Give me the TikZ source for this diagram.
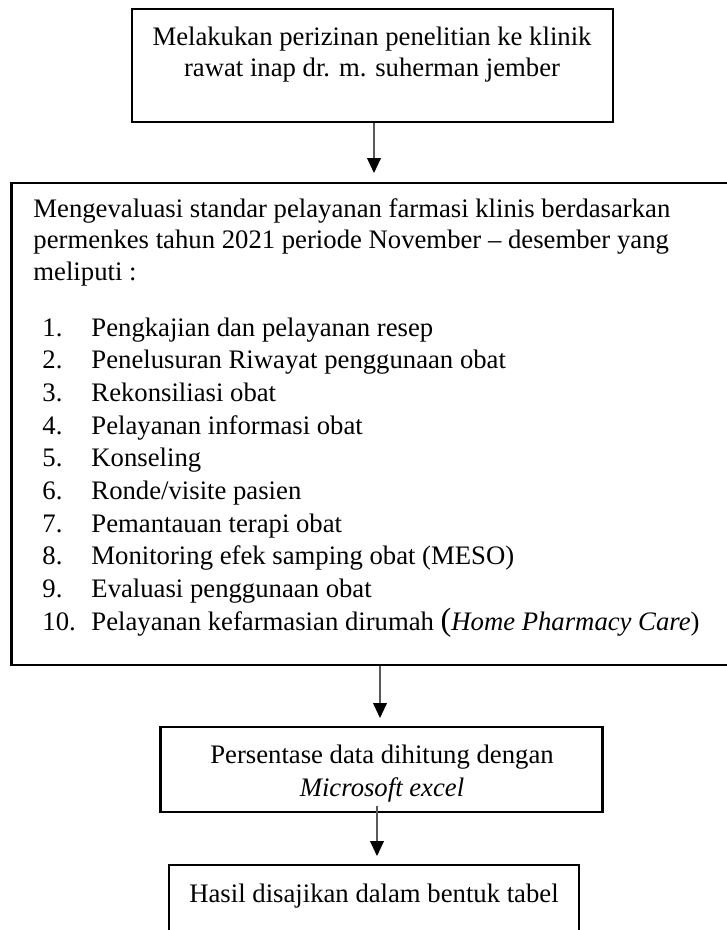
\documentclass[tikz,border=0pt]{standalone}
\usepackage{fontspec}
\setmainfont{Liberation Serif}
\usetikzlibrary{arrows.meta,fit,calc}
\begin{document}
\begin{tikzpicture}[x=0.4494pt,y=-0.4494pt,
  box/.style={draw=black,line width=1.2pt,inner sep=0pt,fill=none},
  txt/.style={inner sep=0pt,anchor=base,font=\fontsize{12}{13.8}\selectfont},
  txtl/.style={txt,anchor=base west},
  arr/.style={draw=black!65,line width=0.5pt,-{Triangle[length=6.7pt,width=6.2pt,color=black]}}]
\useasboundingbox (0,0) rectangle (727,930);
\clip (0,0) rectangle (727,930);

% boxes
\node[box,fit={(132,9) (613,122)}] (b1) {};
\node[box,fit={(11.7,183) (745,665)}] (b2) {};
\node[box,fit={(160.7,727) (602.7,812)}] (b3) {};
\node[box,fit={(169,865) (579,945)}] (b4) {};

% box 1 text
\node[txt] (t1a) at (372,46) {Melakukan perizinan penelitian ke klinik};
\node[txt] (t1b) at (372,77) {rawat inap dr. m. suherman jember};

% box 2 text
\node[txtl] (t2a) at (33,218) {Mengevaluasi standar pelayanan farmasi klinis berdasarkan};
\node[txtl] (t2b) at (33,249) {permenkes tahun 2021 periode November – desember yang};
\node[txtl] (t2c) at (33,280) {meliputi :};
\foreach \t [count=\k] in {{Pengkajian dan pelayanan resep},
  {Penelusuran Riwayat penggunaan obat},
  {Rekonsiliasi obat},
  {Pelayanan informasi obat},
  {Konseling},
  {Ronde/visite pasien},
  {Pemantauan terapi obat},
  {Monitoring efek samping obat (MESO)},
  {Evaluasi penggunaan obat}} {
  \node[txtl] (n\k) at (42,{336+32.7*(\k-1)}) {\k.};
  \node[txtl] (i\k) at (91,{336+32.7*(\k-1)}) {\t};
}
\node[txtl] (n10) at (42,630.3) {10.};
\node[txtl] (i10) at (91,630.3) {Pelayanan kefarmasian dirumah {\fontsize{14.5}{14.5}\selectfont(}\textit{Home Pharmacy Care})};

% box 3 text
\node[txt] (t3a) at (382,763) {Persentase data dihitung dengan};
\node[txt] (t3b) at (382,796) {\textit{Microsoft excel}};

% box 4 text
\node[txt] (t4) at (374,902) {Hasil disajikan dalam bentuk tabel};

% arrows
\coordinate (a1) at (374,173);
\coordinate (a2) at (380,718);
\coordinate (a3) at (377,856);
\draw[arr] (b1.south -| a1) -- (a1);
\draw[arr] (b2.south -| a2) -- (a2);
\draw[arr] ($(b3.south -| a3)+(0,-7)$) -- (a3);
\end{tikzpicture}
\end{document}
